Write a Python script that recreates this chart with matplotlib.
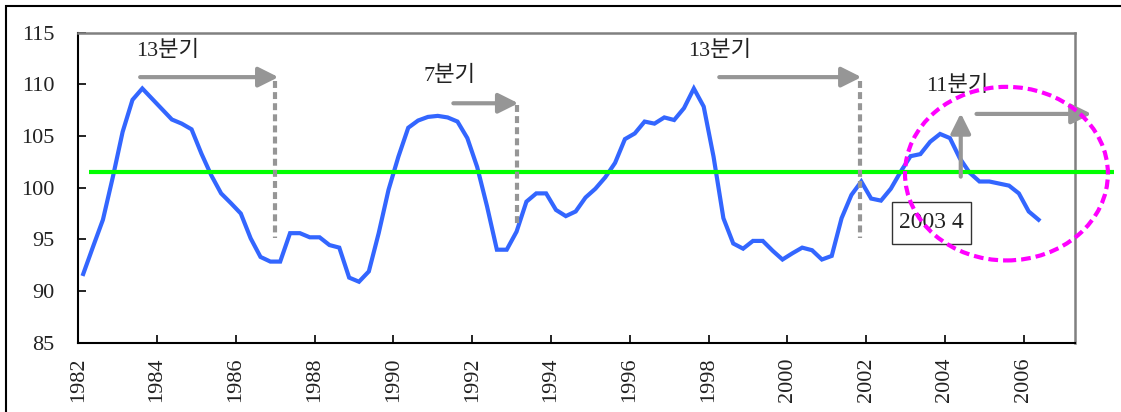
import numpy as np
import pandas as pd
import matplotlib
matplotlib.use("Agg")
import matplotlib.pyplot as plt
from matplotlib.patches import Rectangle, Ellipse

plt.rcParams['lines.scale_dashes'] = False
FONT = ['Liberation Serif', 'Noto Sans CJK KR']
plt.rcParams['font.family'] = FONT

# ---------------- data ----------------
quarters = pd.period_range('1982Q1', periods=98, freq='Q')
values = [91.65, 94.3, 96.9, 101.0,
          105.4, 108.5, 109.6, 108.6,
          107.6, 106.6, 106.2, 105.65,
          103.3, 101.2, 99.45, 98.5,
          97.5, 95.1, 93.3, 92.85,
          92.85, 95.6, 95.6, 95.2,
          95.2, 94.45, 94.2, 91.3,
          90.9, 91.9, 95.6, 99.8,
          103.0, 105.8, 106.5, 106.85,
          106.95, 106.8, 106.4, 104.8,
          102.0, 98.2, 94.0, 94.0,
          95.75, 98.65, 99.45, 99.45,
          97.85, 97.25, 97.7, 99.05,
          99.9, 101.0, 102.4, 104.7,
          105.25, 106.4, 106.2, 106.8,
          106.55, 107.7, 109.6, 107.85,
          103.0, 97.05, 94.6, 94.1,
          94.85, 94.85, 93.9, 93.05,
          93.65, 94.2, 93.95, 93.05,
          93.4, 97.05, 99.3, 100.6,
          98.95, 98.75, 99.9, 101.55,
          103.05, 103.25, 104.45, 105.2,
          104.8, 102.85, 101.45, 100.6,
          100.6, 100.4, 100.2, 99.45,
          97.7, 96.9]
baseline = 101.5
baseline_span = [1982.28, 2008.29]

y_ticks = [85, 90, 95, 100, 105, 110, 115]
x_ticks = [1982, 1984, 1986, 1988, 1990, 1992, 1994, 1996, 1998, 2000, 2002, 2004, 2006]

# annotation arrows: (x_start, x_end, y)
h_arrows = [(1983.57, 1987.08, 110.7),
            (1991.52, 1993.17, 108.17),
            (1998.27, 2001.88, 110.7),
            (2004.80, 2007.72, 107.14)]
# dashed drops: (x, y_top, y_bottom)
drops = [(1986.99, 110.3, 95.1),
         (1993.13, 108.0, 96.2),
         (2001.84, 110.3, 95.1)]
# vertical arrow (x, y_start, y_end)
v_arrow = (2004.40, 101.07, 107.2)
labels = ['13분기', '7분기', '13분기', '11분기']
label_pos = [(1983.48, 113.2), (1990.76, 110.8), (1997.48, 113.2), (2003.53, 109.85)]
box_text = '2003 4'
box_rect = (2002.645, 94.6, 2.012, 4.05)
ellipse_c = (2005.56, 101.36)
ellipse_wh = (5.15, 16.8)

# ---------------- figure ----------------
W, H = 1121, 412
fig = plt.figure(figsize=(W / 100, H / 100), dpi=100)
ax = fig.add_axes([78.3 / W, 1 - 342.7 / H, (1075 - 78.3) / W, (342.7 - 32.7) / H])

x = [p.start_time.year + (p.quarter - 0.5) / 4 for p in quarters]
ax.plot(x, values, color='#3366FF', lw=3, solid_joinstyle='miter', zorder=3)

ax.plot(baseline_span, [baseline, baseline], color='#00FF00', lw=3, zorder=4,
        clip_on=False, solid_capstyle='butt')

gray = '#969696'
for xs, xe, yy in h_arrows:
    ax.annotate('', xy=(xe, yy), xytext=(xs, yy),
                arrowprops=dict(arrowstyle='-|>', color=gray, lw=3,
                                mutation_scale=30, shrinkA=0, shrinkB=0),
                annotation_clip=False, zorder=5)
for xd, yt, yb in drops:
    ax.plot([xd, xd], [yt, yb], color=gray, lw=3, dashes=(5, 3), zorder=5,
            solid_capstyle='butt', dash_capstyle='butt')
ax.annotate('', xy=(v_arrow[0], v_arrow[2]), xytext=(v_arrow[0], v_arrow[1]),
            arrowprops=dict(arrowstyle='-|>', color=gray, lw=3,
                            mutation_scale=30, shrinkA=0, shrinkB=0),
            annotation_clip=False, zorder=5)

for t, (tx, ty) in zip(labels, label_pos):
    ax.text(tx, ty, t, fontsize=16, va='center', ha='left', family=FONT,
            color='#222222', zorder=6)

ax.add_patch(Rectangle((box_rect[0], box_rect[1]), box_rect[2], box_rect[3],
                       facecolor='white', edgecolor='#333333', lw=1, zorder=6,
                       clip_on=False))
ax.text(box_rect[0] + box_rect[2] / 2, box_rect[1] + box_rect[3] / 2, box_text,
        fontsize=17, ha='center', va='center', family=FONT, color='#222222', zorder=7)

ax.add_patch(Ellipse(ellipse_c, ellipse_wh[0], ellipse_wh[1], fill=False,
                     edgecolor='#FF00FF', lw=3, linestyle=(0, (7, 3.6)),
                     clip_on=False, zorder=8))

ax.set_xlim(1982, 2007.3)
ax.set_ylim(85, 115)
ax.set_yticks(y_ticks)
ax.set_xticks(x_ticks)
ax.set_xticklabels([str(v) for v in x_ticks], rotation=90)
ax.tick_params(axis='both', direction='in', length=6, width=1.2, labelsize=16,
               colors='black')
ax.tick_params(axis='y', pad=17)
ax.tick_params(axis='x', pad=11)
for lab in ax.get_xticklabels() + ax.get_yticklabels():
    lab.set_color('#222222')
for s in ['left', 'bottom']:
    ax.spines[s].set_color('black')
    ax.spines[s].set_linewidth(1.5)
for s in ['top', 'right']:
    ax.spines[s].set_color('#808080')
    ax.spines[s].set_linewidth(1.8)

# outer chart border (only top and left edges fall inside the image)
fig.add_artist(Rectangle((6 / W, -0.1), 1.1, 1.1 - 6 / H,
                         transform=fig.transFigure, fill=False,
                         edgecolor='black', lw=1.5))

fig.savefig('out.png', dpi=100)
